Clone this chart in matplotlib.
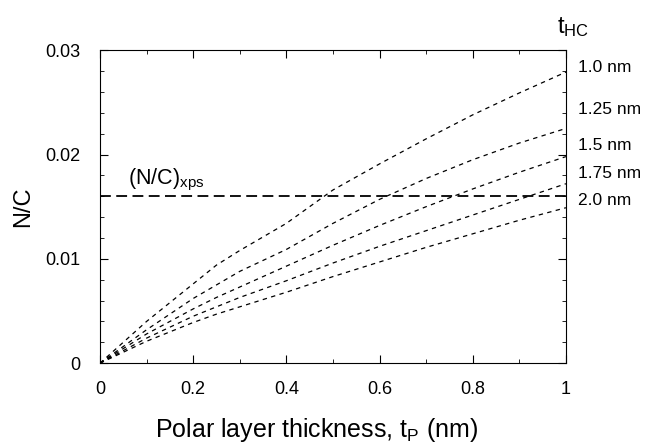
import numpy as np
import matplotlib.pyplot as plt
from matplotlib.ticker import MultipleLocator, FuncFormatter

plt.rcParams['font.family'] = ['Liberation Sans', 'DejaVu Sans']
plt.rcParams['mathtext.fontset'] = 'custom'
plt.rcParams['mathtext.rm'] = 'Liberation Sans'
plt.rcParams['mathtext.it'] = 'Liberation Sans'

# --- datos ---
t_p = [0.0, 0.1, 0.2, 0.25, 0.3, 0.4, 0.5, 0.6, 0.7, 0.8, 0.9, 1.0]
nc_10 = [0.0, 0.0040, 0.0076, 0.0094, 0.0108, 0.0134, 0.0166, 0.0191, 0.0215, 0.0238, 0.0259, 0.0279]
nc_125 = [0.0, 0.0032, 0.0062, 0.0075, 0.0088, 0.0109, 0.0134, 0.0157, 0.0177, 0.0195, 0.0211, 0.0225]
nc_15 = [0.0, 0.0028, 0.0052, 0.0063, 0.0073, 0.0093, 0.0113, 0.0132, 0.0150, 0.0167, 0.0183, 0.0198]
nc_175 = [0.0, 0.0024, 0.0045, 0.0054, 0.0063, 0.0079, 0.0096, 0.0112, 0.0127, 0.0142, 0.0157, 0.0172]
nc_20 = [0.0, 0.0021, 0.0039, 0.0047, 0.0054, 0.0068, 0.0083, 0.0097, 0.0111, 0.0124, 0.0137, 0.0149]
series = [nc_10, nc_125, nc_15, nc_175, nc_20]
labels = ['1.0 nm', '1.25 nm', '1.5 nm', '1.75 nm', '2.0 nm']
label_y = [0.0283, 0.0243, 0.0209, 0.0182, 0.0156]

nc_xps = 0.016

# --- grafica ---
fig = plt.figure(figsize=(6.49, 4.44), dpi=100)
ax = fig.add_axes([0.154, 0.182, 0.718, 0.705])

for s in series:
    ax.plot(t_p, s, color='black', lw=0.9, dashes=(3.5, 3.5))

ax.plot([0, 1], [nc_xps, nc_xps], color='black', lw=1.3, dashes=(6, 3))
ax.text(0.06, 0.0171, r'(N/C)$_{\rm xps}$', fontsize=15.5)

for lab, y in zip(labels, label_y):
    ax.text(1.025, y, lab, fontsize=12.5, va='center', clip_on=False)
ax.text(0.98, 0.0322, r't$_{\rm HC}$', fontsize=17, va='center', clip_on=False)

ax.set_xlim(0, 1)
ax.set_ylim(0, 0.03)
ax.xaxis.set_major_locator(MultipleLocator(0.2))
ax.xaxis.set_minor_locator(MultipleLocator(0.1))
ax.yaxis.set_major_locator(MultipleLocator(0.01))
ax.yaxis.set_minor_locator(MultipleLocator(0.002))
ax.xaxis.set_major_formatter(FuncFormatter(lambda v, p: '%g' % round(v, 3)))
ax.yaxis.set_major_formatter(FuncFormatter(lambda v, p: '%g' % round(v, 3)))
ax.tick_params(which='both', direction='in', top=True, right=True, labelsize=13)
ax.tick_params(which='major', length=6)
ax.tick_params(axis='y', which='major', pad=14)
ax.tick_params(axis='x', which='major', pad=13)
ax.tick_params(which='minor', length=3)

ax.set_xlabel(r'Polar layer thickness, t$_{\rm P}$ (nm)', fontsize=18, labelpad=11)
ax.xaxis.set_label_coords(0.464, -0.17)
ax.set_ylabel('N/C', fontsize=17, labelpad=8)

fig.savefig('out.png', dpi=100)
